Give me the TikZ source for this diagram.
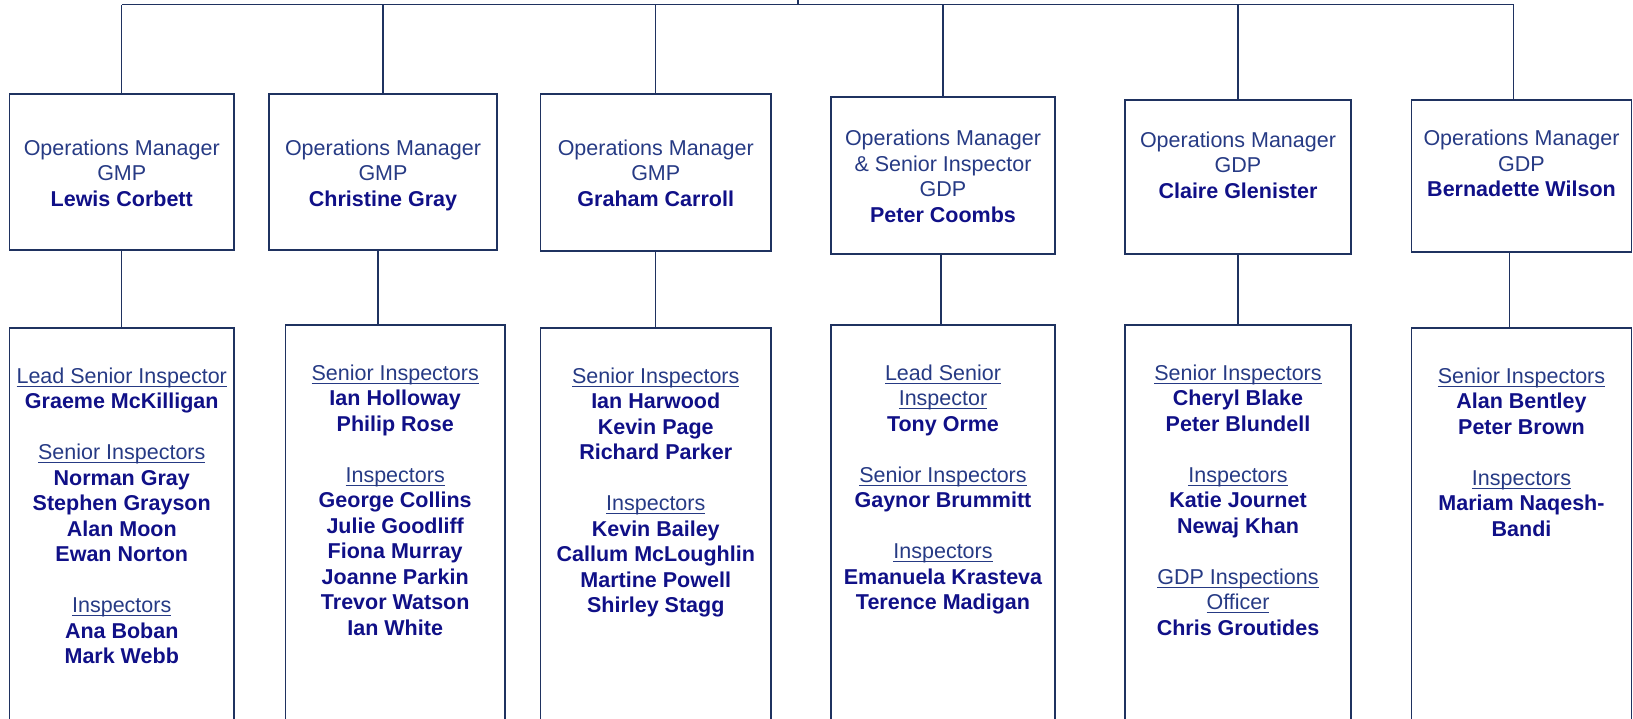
\documentclass[tikz,border=0pt]{standalone}
\usepackage{fontspec}
\setmainfont{Liberation Sans}
\usepackage{tikz}
\usetikzlibrary{calc}
\usetikzlibrary{fit}
\definecolor{chartline}{RGB}{31,50,96}
\definecolor{rolecol}{RGB}{38,58,132}
\definecolor{namecol}{RGB}{16,16,135}
\newcommand\rolehd[1]{\underline{\smash{#1}}}
\newcommand\staff[1]{\textcolor{namecol}{\bfseries #1}}
\begin{document}
\begin{tikzpicture}[x=.5pt,y=-.5pt,
    orgbox/.style={draw=chartline,line width=.65pt,inner sep=0pt},
    orgtext/.style={anchor=north,align=center,text=rolecol,inner sep=0pt,
        font=\fontsize{10.75}{12.75}\selectfont},
    link/.style={draw=chartline,line width=.65pt}]
    \useasboundingbox (0,0) rectangle (1633,718);
    \clip (0,0) rectangle (1633,718);
    \pgfmathsetmacro{\gap}{12.75}
    \coordinate (up) at (798,0);
    \coordinate (bus) at (798,4.5);
    \foreach \i/\xa/\xb/\ya/\yb/\dy/\tex in {
        1/9.5/234/94/250/41.6/{Operations Manager\\GMP\\\staff{Lewis Corbett}},
        2/269/497/94/250/41.6/{Operations Manager\\GMP\\\staff{Christine Gray}},
        3/540.5/771/94/251/41.6/{Operations Manager\\GMP\\\staff{Graham Carroll}},
        4/831/1055/97/254/29.2/{Operations Manager\\\& Senior Inspector\\GDP\\\staff{Peter Coombs}},
        5/1125/1351/100/254/27.3/{Operations Manager\\GDP\\\staff{Claire Glenister}},
        6/1411.5/1631.5/100/252/26.2/{Operations Manager\\GDP\\\staff{Bernadette Wilson}}}
    {\node[orgbox,fit={(\xa,\ya) (\xb,\yb)}] (om\i) {};
    \node[orgtext] (om\i-txt) at ($(om\i.north)+(0,\dy)$) {\rule{0pt}{10pt}\tex};}
    \foreach \i/\xa/\xb/\ya/\dy/\tex in {
        1/9.5/234/328/35.7/{\rolehd{Lead Senior Inspector}\\\staff{Graeme McKilligan}\\[\gap pt]
            \rolehd{Senior Inspectors}\\\staff{Norman Gray}\\\staff{Stephen Grayson}\\\staff{Alan Moon}\\\staff{Ewan Norton}\\[\gap pt]
            \rolehd{Inspectors}\\\staff{Ana Boban}\\\staff{Mark Webb}},
        2/285.4/505/325/35.6/{\rolehd{Senior Inspectors}\\\staff{Ian Holloway}\\\staff{Philip Rose}\\[\gap pt]
            \rolehd{Inspectors}\\\staff{George Collins}\\\staff{Julie Goodliff}\\\staff{Fiona Murray}\\\staff{Joanne Parkin}\\\staff{Trevor Watson}\\\staff{Ian White}},
        3/540.5/771/328/35.7/{\rolehd{Senior Inspectors}\\\staff{Ian Harwood}\\\staff{Kevin Page}\\\staff{Richard Parker}\\[\gap pt]
            \rolehd{Inspectors}\\\staff{Kevin Bailey}\\\staff{Callum McLoughlin}\\\staff{Martine Powell}\\\staff{Shirley Stagg}},
        4/831/1055/325/35.6/{\rolehd{Lead Senior}\\\rolehd{Inspector}\\\staff{Tony Orme}\\[\gap pt]
            \rolehd{Senior Inspectors}\\\staff{Gaynor Brummitt}\\[\gap pt]
            \rolehd{Inspectors}\\\staff{Emanuela Krasteva}\\\staff{Terence Madigan}},
        5/1125/1351/325/35.6/{\rolehd{Senior Inspectors}\\\staff{Cheryl Blake}\\\staff{Peter Blundell}\\[\gap pt]
            \rolehd{Inspectors}\\\staff{Katie Journet}\\\staff{Newaj Khan}\\[\gap pt]
            \rolehd{GDP Inspections}\\\rolehd{Officer}\\\staff{Chris Groutides}},
        6/1411.5/1631.5/328/35.7/{\rolehd{Senior Inspectors}\\\staff{Alan Bentley}\\\staff{Peter Brown}\\[\gap pt]
            \rolehd{Inspectors}\\\staff{Mariam Naqesh-}\\\staff{Bandi}}}
    {\node[orgbox,fit={(\xa,\ya) (\xb,760)}] (team\i) {};
    \node[orgtext] (team\i-txt) at ($(team\i.north)+(0,\dy)$) {\rule{0pt}{10pt}\tex};}
    \foreach \i/\su/\sd in {1/0pt/0pt,2/0pt/-2.5pt,3/0pt/0pt,4/0pt/-1pt,5/0pt/0pt,6/-4pt/-6pt}
    {\coordinate (top\i) at ([xshift=\su]om\i.north);
    \coordinate (down\i) at ([xshift=\sd]om\i.south);
    \draw[link] (top\i) -- (top\i |- bus);
    \draw[link] (down\i) -- (down\i |- team\i.north);}
    \draw[link] (top1 |- bus) -- (top6 |- bus);
    \draw[link] (bus) -- (up);
\end{tikzpicture}
\end{document}
